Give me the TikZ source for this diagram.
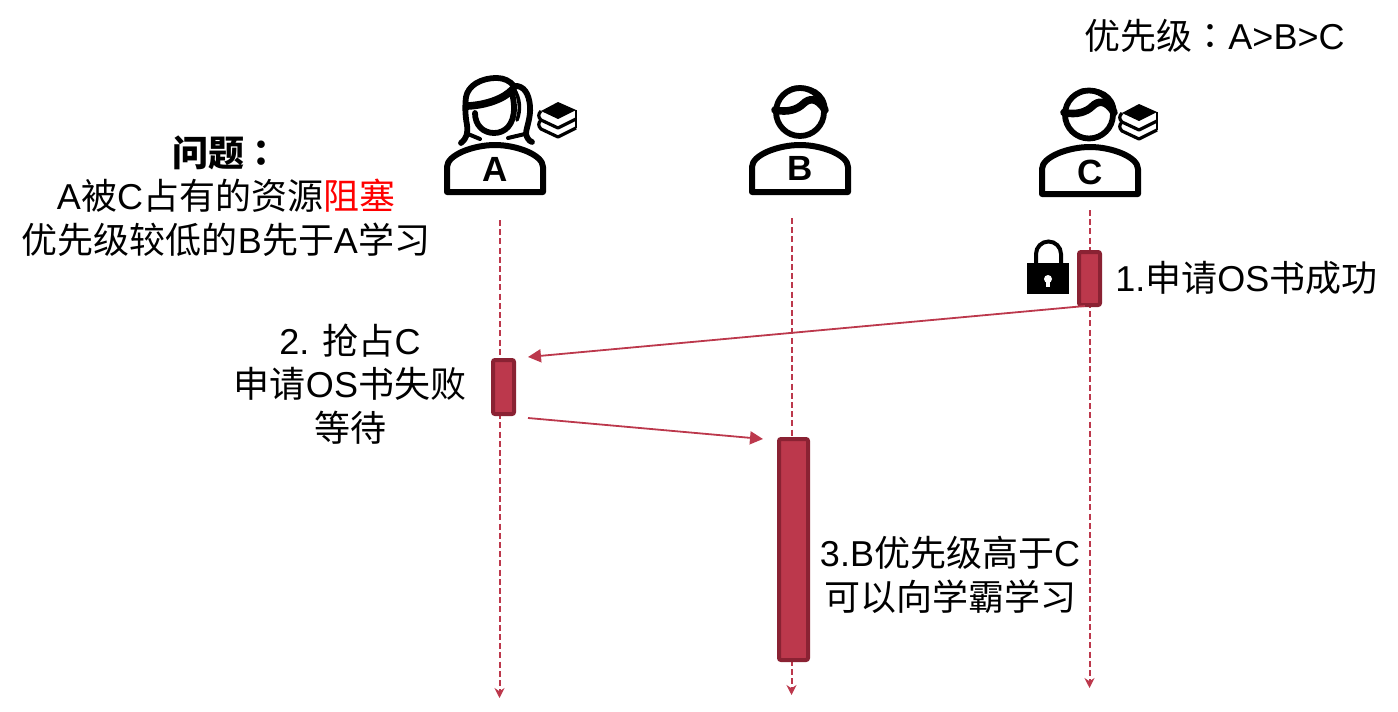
\documentclass[tikz,border=0pt]{standalone}
\usepackage{fontspec}
\setmainfont{Liberation Sans}
\newfontfamily\cjk{Noto Sans CJK SC}
\newfontfamily\cjktc{Noto Sans CJK TC}
\newcommand{\zh}[1]{{\cjk #1}}
\usetikzlibrary{arrows.meta}
\definecolor{barfill}{HTML}{BC384C}
\definecolor{barline}{HTML}{8A2233}
\definecolor{lifecol}{HTML}{BC384C}
\tikzset{
  x=0.5pt,y=-0.5pt,
  lbl/.style={font=\fontsize{18}{21.9}\selectfont,align=center,inner sep=0pt,text=black},
  letter/.style={font=\fontsize{17.5}{20}\selectfont\bfseries,inner sep=0pt},
  bar/.style={draw=barline,fill=barfill,line width=2pt,rounded corners=1pt,inner sep=0pt,minimum width=0pt},
  lifeline/.style={draw=lifecol,line width=1pt,dash pattern=on 3pt off 1.6pt,-{Stealth[length=5pt,width=5pt]}},
  msg/.style={draw=lifecol,line width=0.9pt,-{Triangle[length=6.5pt,width=6.5pt]}},
  ink/.style={draw=black,line width=2.9pt,line cap=round,line join=round},
  torso/.pic={\draw[black,line width=3pt,line join=round] (-48,23) -- (-48,-2) .. controls (-48,-14) and (-22,-24) .. (0,-24) .. controls (22,-24) and (48,-14) .. (48,-2) -- (48,23) -- cycle;},
  manhead/.pic={
    \draw[ink] (0,0) circle[radius=24];
    \draw[ink,line width=3.8pt] (-25,-2) .. controls (-12,1) and (-2,-3) .. (3,-8) .. controls (9,-14) and (17,-15) .. (25,-2);
    \draw[ink,line width=1.8pt] (-8,-24) .. controls (10,-27) and (25,-20) .. (26,-2);
  },
  bookpile/.pic={
    \fill[black] (-17,-9) -- (0,-18) -- (18,-10) -- (0,-1) -- cycle;
    \draw[black,line width=1.6pt,line join=round] (-17,-9) .. controls (-20,-6) and (-20,-3) .. (-17,0) -- (0,8) -- (18,-1);
    \draw[black,line width=1.6pt,line join=round] (-17,0) .. controls (-20,3) and (-20,6) .. (-17,9) -- (0,17) -- (18,8);
    \draw[black,line width=1.2pt] (18,-10) -- (18,8);
  },
}
\begin{document}
\begin{tikzpicture}
\useasboundingbox (0,0) rectangle (1398,712);

% lifeline ends
\coordinate (atop) at (499.5,220);
\coordinate (abot) at (499.5,698);
\coordinate (btop) at (791.5,218);
\coordinate (bbot) at (791.5,695);
\coordinate (ctop) at (1089.5,210);
\coordinate (cbot) at (1089.5,688);
\draw[lifeline] (atop) -- (abot);
\draw[lifeline] (btop) -- (bbot);
\draw[lifeline] (ctop) -- (cbot);

% activation bars
\node[bar,minimum width=10.5pt,minimum height=27pt] (abar) at (503.5,387) {};
\node[bar,minimum width=14.5pt,minimum height=110.5pt] (bbar) at (793.5,549.5) {};
\node[bar,minimum width=10.5pt,minimum height=26.5pt] (cbar) at (1089.5,278.5) {};

% messages
\coordinate (m1s) at (1085,306);
\coordinate (m1e) at (528,357);
\coordinate (m2s) at (528,418);
\coordinate (m2e) at (763,439);
\draw[msg] (m1s) -- (m1e);
\draw[msg] (m2s) -- (m2e);

% person A
\pic at (495,169) {torso};
\draw[ink] (475,113) .. controls (475,125) and (483,133) .. (494,133) .. controls (505,133) and (514,125) .. (514,108) .. controls (514,102) and (513,97) .. (512,94);
\draw[ink] (461,143) .. controls (467,138) and (468,133) .. (467,125) .. controls (465,115) and (465,105) .. (466,97) .. controls (468,86) and (480,78) .. (497,78) .. controls (504,78) and (510,81) .. (514,86) .. controls (524,85) and (529,94) .. (530,106) .. controls (531,118) and (526,128) .. (526,134) .. controls (527,138) and (529,141) .. (532,142);
\draw[ink,line width=3.8pt] (468,106) .. controls (486,105) and (504,99) .. (513,89);
\draw[ink,line width=1.8pt] (514,89) .. controls (520,98) and (521,110) .. (517,120);
\draw[ink,line width=2pt] (468,134) -- (480,139);
\draw[ink,line width=2pt] (525,134) -- (508,138);
\node[letter] (la) at (495,169) {A};
\pic at (558,120) {bookpile};

% person B
\pic at (800,169) {torso};
\pic at (800,112) {manhead};
\node[letter] (lb) at (800,168) {B};

% person C
\pic at (1090,171) {torso};
\pic at (1089,114.5) {manhead};
\node[letter] (lc) at (1090,172) {C};
\pic at (1139,122) {bookpile};

% lock
\fill[black] (1027,263) rectangle (1069,294);
\draw[black,line width=2pt] (1036,264) -- (1036,254) arc[start angle=180,end angle=360,radius=12.5] -- (1061,264);
\fill[white] (1048,279) circle[radius=4];
\fill[white] (1046,280) rectangle (1050,287);

% texts
\node[lbl] (prio) at (1214.5,36) {\zh{优先级}{\cjktc ：}A>B>C};
\node[lbl] (prob) at (226,196) {{\cjk\bfseries 问题}{\cjktc\bfseries ：}\\A\zh{被}C\zh{占有的资源}\textcolor{red}{\zh{阻塞}}\\\zh{优先级较低的}B\zh{先于}A\zh{学习}};
\node[lbl,anchor=west] (s1) at (1115,278) {1.\zh{申请}OS\zh{书成功}};
\node[lbl] (s2) at (350,384) {2. \zh{抢占}C\\\zh{申请}OS\zh{书失败}\\\zh{等待}};
\node[lbl] (s3) at (950,575) {3.B\zh{优先级高于}C\\\zh{可以向学霸学习}};
\end{tikzpicture}
\end{document}
